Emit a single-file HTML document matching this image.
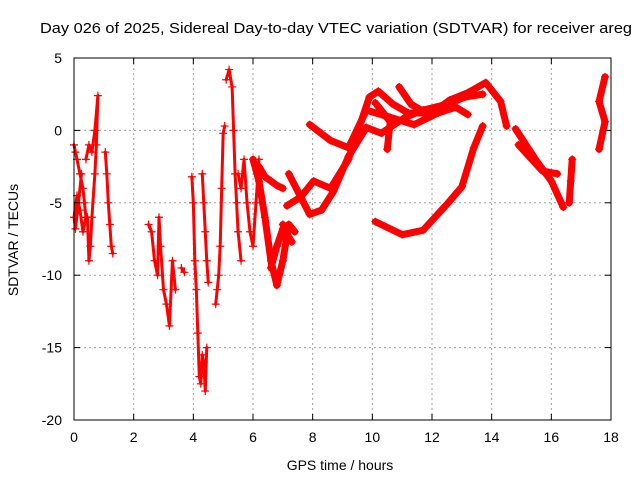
<!DOCTYPE html>
<html><head><meta charset="utf-8"><style>
body{margin:0;background:#fff}
svg{display:block;font-family:"Liberation Sans",sans-serif}
</style></head><body>
<svg id="chart" width="640" height="480" viewBox="0 0 640 480">
<rect width="640" height="480" fill="#fff"/>
<text x="40" y="33" font-size="14.5" textLength="592" lengthAdjust="spacingAndGlyphs">Day 026 of 2025, Sidereal Day-to-day VTEC variation (SDTVAR) for receiver areg</text>
<g id="grid"></g>
<g id="series"></g>
<rect x="74" y="58" width="537" height="362" fill="none" stroke="#000" stroke-width="1"/>
<g id="ticks"></g>
<text x="340" y="470" font-size="14" text-anchor="middle">GPS time / hours</text>
<text x="0" y="0" font-size="14" text-anchor="middle" transform="translate(18,240) rotate(-90)">SDTVAR / TECUs</text>
</svg>
<script>
const xTicks=[0,2,4,6,8,10,12,14,16,18];
const yTicks=[5,0,-5,-10,-15,-20];
const trackTimes=[
[0,0.05,0.1,0.2,0.3,0.35,0.4,0.3,0.2,0.1,0,0.05,0.15,0.25],
[0.4,0.5,0.6,0.7,0.8,0.75,0.7,0.6,0.55,0.5,0.45],
[1.05,1.1,1.15,1.2,1.25,1.3],
[2.5,2.6,2.7,2.8,2.85,2.9,3.0,3.1,3.2,3.3,3.4],
[3.6,3.7],
[3.95,4.0,4.05,4.1,4.15,4.2,4.25,4.3,4.35,4.4,4.45],
[4.3,4.35,4.4,4.45,4.5],
[4.75,4.8,4.85,4.9,4.95,5.0,5.05],
[5.1,5.2,5.3,5.35,5.4,5.45,5.5,5.6],
[5.5,5.6,5.7,5.8,5.9,6.0,6.1,6.2],
[6.0,6.2,6.4,6.6,6.8,7.0,7.2],
[6.2,6.4,6.6,6.8,7.0],
[6.6,6.8,7.0,7.2,7.4],
[7.14,7.6,8.03,8.6,9.2,9.9,10.2,10.7,11.2,12,12.6,13.2,13.8,14.3,14.5],
[7.2,7.6,7.9,8.3,8.7,9.2,9.8,10.3,11.1,11.7,12.5,13.1,13.7],
[7.9,8.6,9.2,9.8,10.6,11.4,12.2,12.8,13.2],
[10.9,11.3,11.8],
[10.1,10.6,10.5],
[7.0,7.15,7.3],
[10.1,11.0,11.7,12.5,13.0,13.4,13.7],
[14.8,15.5,16.0,16.4],
[14.9,15.7,16.2],
[16.7,16.65,16.6],
[17.8,17.6,17.8,17.6]
];
const trackValues=[
[-1,-1.5,-2,-3,-4,-5,-6,-7,-5.5,-4.5,-6,-6.8,-5,-3],
[-2,-1,-1.5,0,2.4,-1,-3,-6,-8,-9,-6],
[-1.5,-3,-5,-6.5,-8,-8.5],
[-6.5,-7,-9,-10,-6,-8,-11,-12,-13.5,-9,-11],
[-9.5,-9.8],
[-3.2,-5,-9,-11,-14,-17,-17.5,-15.5,-16,-18,-15],
[-3,-5,-7,-9,-10.5],
[-12,-11,-10,-8,-4,-0.2,0.3],
[3.5,4.2,3.0,0,-3,-5,-7,-9],
[-3,-4,-2,-5,-7,-8,-5,-2],
[-2,-3.5,-6,-9,-10.7,-9,-6.5],
[-2.5,-3.2,-3.5,-3.8,-4],
[-9.5,-8,-6.8,-6.5,-7],
[-5.2,-4.6,-3.5,-4.0,-2.0,2.3,2.7,1.8,1.2,1.2,2.1,2.6,3.3,2.0,0.3],
[-3.0,-4.6,-5.8,-5.5,-4.2,-1.8,0.2,-0.2,0.9,1.4,1.8,2.3,2.5],
[0.4,-0.7,-1.2,1.4,0.9,0.4,1.2,1.6,1.1],
[3.0,1.8,1.2],
[1.9,0.6,-1.3],
[-6.5,-7.2,-7.7],
[-6.3,-7.2,-6.9,-5.1,-3.9,-1.2,0.3],
[0.1,-2.1,-3.5,-5.3],
[-1.0,-2.8,-3.0],
[-2.0,-3.5,-5.0],
[3.7,2.0,0.6,-1.3]
];
const X0=74,X1=611,Y0=58,Y1=420;
function sx(t){return X0+(t-0)/(18-0)*(X1-X0);}
function sy(v){return Y1-(v-(-20))/(5-(-20))*(Y1-Y0);}
const NS="http://www.w3.org/2000/svg";
const grid=document.getElementById('grid'),ticks=document.getElementById('ticks'),ser=document.getElementById('series');
function mk(tag,attrs,parent){const e=document.createElementNS(NS,tag);for(const k in attrs)e.setAttribute(k,attrs[k]);parent.appendChild(e);return e;}
xTicks.forEach(t=>{
  const x=sx(t);
  if(t>0&&t<18){const g=mk('line',{x1:x,x2:x,y1:Y0,y2:Y1,stroke:'#a0a0a0','stroke-dasharray':'2,3'},grid);
  
  }
  mk('line',{x1:x,x2:x,y1:Y1,y2:Y1-6,stroke:'#000'},ticks);
  mk('line',{x1:x,x2:x,y1:Y0,y2:Y0+6,stroke:'#000'},ticks);
  const l=mk('text',{x:x,y:442,'font-size':14,'text-anchor':'middle'},ticks);l.textContent=t;
  
  
});
yTicks.forEach(v=>{
  const y=sy(v);
  if(v>-20&&v<5){const g=mk('line',{x1:X0,x2:X1,y1:y,y2:y,stroke:'#a0a0a0','stroke-dasharray':'2,3'},grid);
  
  }
  mk('line',{x1:X0,x2:X0+6,y1:y,y2:y,stroke:'#000'},ticks);
  mk('line',{x1:X1,x2:X1-6,y1:y,y2:y,stroke:'#000'},ticks);
  const l=mk('text',{x:62,y:y+5,'font-size':14,'text-anchor':'end'},ticks);l.textContent=v;
  
  
});
trackTimes.forEach((ts,i)=>{
  const vs=trackValues[i];
  const pts=ts.map((t,j)=>sx(t)+','+sy(vs[j])).join(' ');
  const w=i<10?3:7;
  const pl=mk('polyline',{points:pts,fill:'none',stroke:'#f00','stroke-width':w,'stroke-linejoin':'round','stroke-linecap':'round'},ser);
  
  
  ts.forEach((t,j)=>{
    const x=sx(t),y=sy(vs[j]);
    const p=mk('path',{d:`M${x-4},${y}H${x+4}M${x},${y-4}V${y+4}`,stroke:'#f00','stroke-width':1.2},ser);
    
    
  });
});
</script>
</body></html>
